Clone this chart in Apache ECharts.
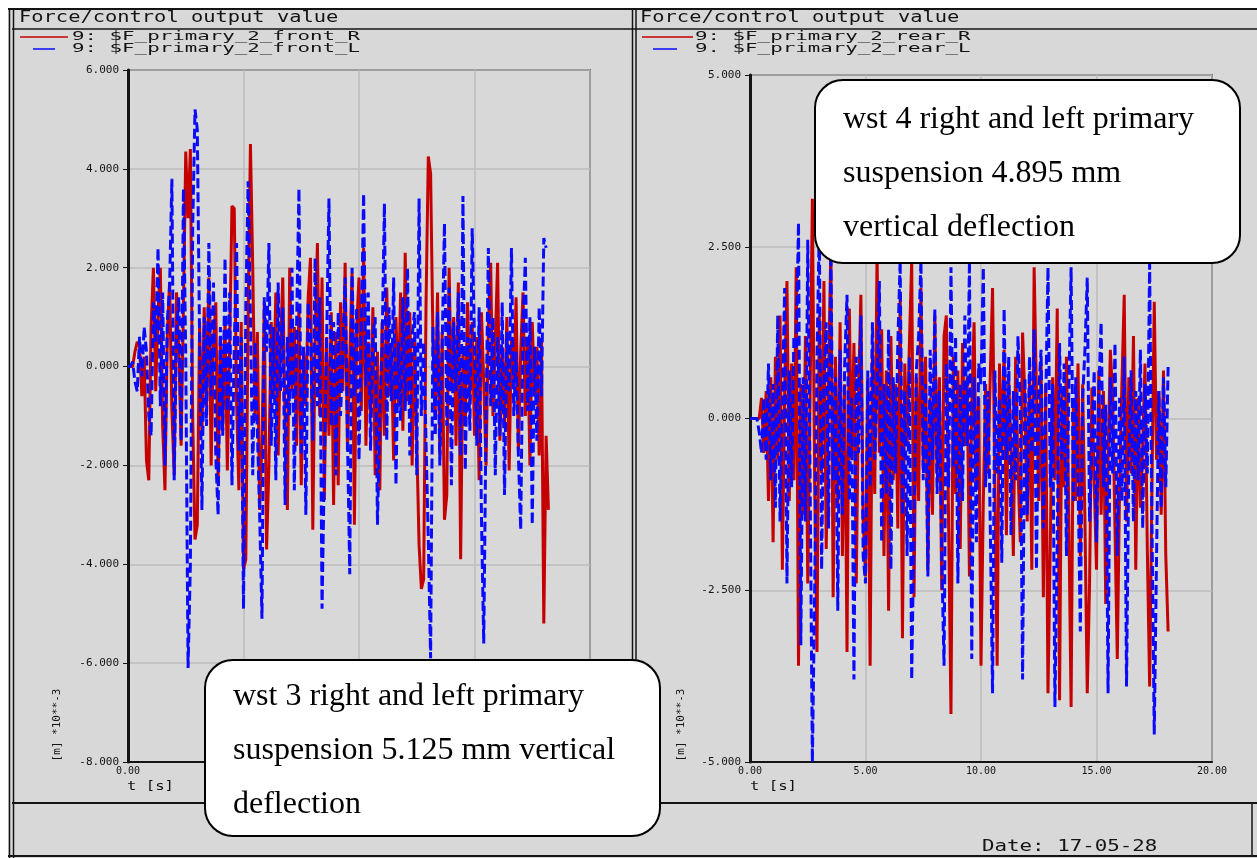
<!DOCTYPE html>
<html><head><meta charset="utf-8">
<script src="https://cdn.jsdelivr.net/npm/echarts@6/dist/echarts.min.js"></script>
<style>html,body{margin:0;padding:0;background:#fff}#c{width:1257px;height:858px}</style>
</head><body><div id="c"></div>
<script>
// sample spacing of the recorded signals [s]
const DT = 0.1;

// Left panel (wst 3): front primary suspension, [m]*10**-3
const frontR = [
 0, 0, 0, 0.3, 0.5, 0.4, -0.6, 0.2, -1.9, -2.3,
 0.8, 2.0, -0.5, 1.1, 2.0, -1.2, -2.5, 0.6, 1.7, -0.9,
 -2.2, 1.5, 0.3, -1.6, 1.2, 4.35, 3.0, 4.4, -1.0, -3.5,
 -3.2, 0.9, -1.4, 1.2, -0.8, 1.8, -2.0, 0.5, 1.3, -2.4,
 0.6, -1.3, 1.0, -2.1, 0.4, 3.25, 3.2, -0.7, -2.5, 0.9,
 -4.1, -3.9, 1.0, 4.5, 2.0, -1.1, 0.7, -2.9, -1.5, 1.3,
 -3.7, -2.0, 0.9, -0.6, 1.5, -1.8, 0.4, 1.8, -1.2, -2.9,
 2.0, -0.5, 0.8, -1.6, 1.2, -2.4, 0.3, -0.8, 1.4, 2.2,
 -3.3, 0.5, 2.5, -1.0, 1.8, -2.7, 0.6, -1.4, 1.1, -2.8,
 0.7, -2.4, 1.3, -0.5, 2.1, -1.7, 0.2, 1.9, -3.2, 0.8,
 1.8, -0.9, 2.4, -1.6, 0.5, -1.0, 1.2, -2.2, 0.3, -2.5,
 0.9, -1.4, 1.6, -0.6, 0.4, -1.9, 1.0, -0.8, 1.5, -1.3,
 2.3, -0.7, 1.1, -2.0, 0.6, -1.5, -3.6, -4.5, -4.3, 1.2,
 4.25, 3.9, 0.6, -0.9, 1.5, -1.8, 0.7, -3.1, -2.6, 2.0,
 -0.5, 1.0, -1.6, 1.7, -3.9, 0.4, -1.2, 1.3, -0.7, 0.9,
 -1.4, 0.6, -2.3, 1.1, -0.3, -2.0, 0.8, 2.1, -1.0, 0.5,
 2.1, -1.5, 0.4, -1.2, 1.0, -2.1, 0.6, -0.4, 1.4, -1.7,
 0.3, 1.5, -1.0, 0.6, -2.0, 0.9, -0.6, 0.4, -1.8, 0.5,
 -5.2, -1.4, -2.9
];
const frontL = [
 0, 0, 0.1, -0.3, -0.5, 0.6, -0.2, 0.8, 0.3, -1.0,
 -1.4, 1.3, 0.5, 2.4, -0.8, 1.5, -2.0, 0.9, 1.6, 3.8,
 -2.3, 0.7, 1.4, -1.5, 3.6, 0.2, -6.1, -4.0, 2.8, 5.2,
 4.8, 0.5, -2.9, 1.0, -1.2, 2.5, -0.6, 1.7, -1.8, -3.0,
 0.8, -1.4, 2.2, -0.9, 1.5, -2.4, 0.4, 2.5, -1.7, 0.6,
 -4.9, 1.2, 3.75, 1.0, -2.2, 0.5, -1.3, -3.0, -5.1, 1.4,
 0.3, 2.5, -1.6, 0.8, -2.3, 1.7, -0.5, 1.2, -2.8, 0.6,
 -1.0, 2.0, -2.5, 0.9, 3.6, -1.8, 0.4, -3.0, 1.3, 0.7,
 -1.5, 2.2, -0.8, 1.4, -4.9, -2.0, 0.6, 3.4, -1.2, 0.9,
 -2.2, 1.1, -1.0, 0.3, 1.8, -1.4, -4.2, 2.0, -0.6, 1.2,
 -1.9, 0.8, 3.5, -0.4, 1.5, -1.7, 0.6, 1.0, -3.2, -0.9,
 0.4, 3.3, -1.5, 1.2, -0.7, 1.8, -2.4, 0.5, -1.1, 1.4,
 -0.9, 2.0, -1.8, 0.6, 1.1, -2.2, 3.4, -1.0, 0.5, -1.5,
 -3.5, -5.9, 0.8, -1.4, 1.1, -2.0, 0.4, 2.9, -1.2, 1.6,
 -2.4, 0.9, -0.5, 1.5, -1.8, 3.45, -2.1, 0.6, -1.3, 2.8,
 0.5, -1.6, 1.2, -3.0, -5.6, -1.0, 2.4, -0.8, 1.0, -2.2,
 0.6, -1.4, 1.3, -2.6, 0.7, -0.5, 2.4, -1.0, 0.3, -1.8,
 -3.3, 0.8, 2.2, -0.9, 1.0, -3.2, 0.4, -1.5, 1.2, -0.6,
 2.6, 2.4
];

// Right panel (wst 4): rear primary suspension, [m]*10**-3
const rearR = [
 0, 0, 0, 0, 0, 0.3, -0.5, 0.4, -1.2, 0.6,
 -1.8, 0.9, -0.6, 1.5, -2.2, 0.4, 2.0, -1.2, 0.8, -0.9,
 2.2, -3.6, 0.5, -1.4, 1.2, -2.4, 0.3, 3.2, -1.0, -3.4,
 1.5, -0.8, 2.0, -1.9, 0.6, 2.5, -2.6, 0.9, -1.3, 1.4,
 -2.0, 0.5, -3.4, 1.6, -0.6, 1.1, -2.4, 0.4, 1.8, -1.5,
 -2.3, 0.6, -3.6, 1.0, -1.1, 2.4, -0.5, 1.3, -2.0, 0.7,
 -2.8, 1.2, -0.9, 0.5, -1.6, 1.8, -3.2, 0.8, -0.4, 1.1,
 2.3, -2.6, 0.6, -1.2, 1.9, -0.7, 0.9, -2.2, 0.3, -1.4,
 1.5, -0.8, 0.6, -2.5, 1.2, 1.5, -1.6, -4.3, 0.9, -1.1,
 0.7, -1.9, 1.1, -0.4, 0.6, -2.3, 0.2, 1.4, -1.0, 0.3,
 -3.6, -1.2, 0.5, -0.8, 0.6, 1.9, -1.0, -3.6, 0.8, -0.5,
 1.0, -1.7, 0.55, -0.4, -2.0, 0.9, -0.7, -1.8, 1.25, 0.3,
 -1.5, 0.6, -2.2, 2.2, 0.4, -1.2, 0.8, -2.6, 0.5, -4.0,
 -1.8, 0.6, -0.9, 1.6, -4.1, 0.4, -1.0, 0.9, -1.4, -4.2,
 0.3, -1.2, 0.8, -2.0, 0.5, -1.5, -4.0, -2.4, 0.45, -0.9,
 -2.2, 0.7, -1.4, 0.4, -2.7, -0.6, 1.0, 0.3, -1.6, -3.5,
 -1.0, 0.5, 1.8, -1.5, 0.6, -0.8, 1.2, -2.2, 0.3, -1.3,
 -0.4, 0.8, -1.9, -3.9, -1.0, 1.7, -0.6, 0.4, -1.4, 0.7,
 -2.0, -3.1
];
const rearL = [
 0, 0, 0, 0, -0.2, -0.5, 0.3, -0.6, 0.8, -0.9,
 0.5, -1.3, 1.5, -1.5, 0.2, 1.9, -2.4, 0.7, -1.0, 1.2,
 1.0, 2.85, -3.3, 0.6, -1.5, 2.6, -0.8, -5.0, -2.5, 0.9,
 2.8, -2.2, 0.5, 1.4, -1.6, 2.4, -0.9, 0.6, -2.8, 1.0,
 -1.4, 0.8, 1.8, -1.2, 0.3, -3.8, 0.9, -0.5, 1.5, -2.0,
 -2.4, 0.7, -1.0, 1.4, -0.6, 0.4, 2.0, -1.8, 0.5, -1.1,
 1.3, -2.2, 0.6, -0.8, 1.1, 2.3, -1.4, 0.4, -2.0, 0.9,
 -3.8, -1.5, 0.7, 1.2, 2.3, -0.9, 0.5, -2.3, 1.0, -0.6,
 1.6, -1.1, 0.4, -2.0, -3.6, 0.8, -1.0, 2.2, -0.7, 1.2,
 -2.4, 0.5, -1.2, 1.5, -0.4, 2.3, -3.5, 0.6, -1.8, 0.8,
 0.5, 2.2, -1.0, 0.4, -1.5, -4.0, 0.7, -0.8, 0.3, -2.1,
 1.6, -0.6, 0.9, -1.7, 0.4, -0.9, 1.2, 0.2, -3.8, 0.6,
 -1.4, 0.9, -0.5, 1.3, -2.2, 0.4, 1.0, -1.6, 0.2, 2.2,
 -1.0, 0.5, -4.2, -1.8, 1.1, -0.6, 0.8, -2.0, 0.4, 2.2,
 -1.2, 0.6, -0.9, -3.1, 0.3, 1.0, 2.05, -1.5, -0.4, 0.7,
 -1.8, 0.4, 1.4, -1.0, 0.2, -4.0, 0.6, -0.8, 1.1, -2.0,
 0.3, -1.2, 0.9, -3.9, -0.6, 0.7, -1.5, 0.4, -0.9, 1.0,
 -1.6, 0.5, -0.8, 2.25, -1.5, -4.6, -2.0, 0.4, -1.3, 0.6,
 -1.0, 0.75
];

const seriesNames = ['9: $F_primary_2_front_R', '9: $F_primary_2_front_L',
                     '9: $F_primary_2_rear_R', '9. $F_primary_2_rear_L'];
const panelTitle = 'Force/control output value';
const unitLabel = '[m] *10**-3';
const timeLabel = 't [s]';
const dateLabel = 'Date: 17-05-28';
const noteLeft = ['wst 3 right and left primary', 'suspension 5.125 mm vertical', 'deflection'];
const noteRight = ['wst 4 right and left primary', 'suspension 4.895 mm', 'vertical deflection'];

const RED = '#c40000', BLUE = '#0a0aff', BG = '#d8d8d8', INK = '#141414';
const MONO = '"DejaVu Sans Mono", monospace';

function pts(arr) { return arr.map((v, i) => [Math.round(i * DT * 100) / 100, v]); }

function xAx(gi) {
  return {
    gridIndex: gi, type: 'value', min: 0, max: 20, interval: 5,
    axisLine: { show: true, onZero: false, lineStyle: { color: INK, width: 2 } },
    axisTick: { show: false },
    axisLabel: { formatter: v => v.toFixed(2), fontFamily: MONO, fontSize: 10, color: INK, margin: 4 },
    splitLine: { show: true, lineStyle: { color: '#bdbdbd', width: 1.5 } }
  };
}
function yAx(gi, mn, mx, iv) {
  return {
    gridIndex: gi, type: 'value', min: mn, max: mx, interval: iv,
    axisLine: { show: true, onZero: false, lineStyle: { color: INK, width: 3 } },
    axisTick: { show: true, length: 5, lineStyle: { color: INK, width: 1 } },
    axisLabel: { formatter: v => v.toFixed(3), fontFamily: MONO, fontSize: 11, color: INK, margin: 9 },
    splitLine: { show: true, lineStyle: { color: '#bdbdbd', width: 1.5 } }
  };
}
function ser(name, gi, arr, color, dashed, z) {
  return {
    name, type: 'line', xAxisIndex: gi, yAxisIndex: gi, data: pts(arr),
    showSymbol: false, symbol: 'none', z,
    lineStyle: { color, width: 3, type: dashed ? [10, 4] : 'solid', join: 'bevel' },
    emphasis: { disabled: true }
  };
}
function line(x1, y1, x2, y2, w, c) {
  return { type: 'line', z: 50, shape: { x1, y1, x2, y2 }, style: { stroke: c || INK, lineWidth: w || 1.5 } };
}
function txt(x, y, text, size, sx, extra) {
  return Object.assign({ type: 'text', x, y, scaleX: sx || 1, z: 50,
    style: { text, font: size + 'px ' + MONO, fill: INK, textAlign: 'left', textVerticalAlign: 'middle' } }, extra || {});
}
function note(x, y, w, h, lines, tx, ty0) {
  const els = [{ type: 'rect', z: 100, shape: { x, y, width: w, height: h, r: 28 },
    style: { fill: '#ffffff', stroke: '#000', lineWidth: 2 } }];
  lines.forEach((s, i) => els.push({ type: 'text', z: 101, x: tx, y: ty0 + i * 54,
    style: { text: s, font: '32px "Liberation Serif", "Times New Roman", serif', fill: '#000',
      textAlign: 'left', textVerticalAlign: 'middle' } }));
  return els;
}
function vtext(x, y) {
  return { type: 'text', x, y, rotation: Math.PI / 2, z: 50,
    style: { text: unitLabel, font: '11px ' + MONO, fill: INK, textAlign: 'center', textVerticalAlign: 'middle' } };
}

const graphics = [
  { type: 'rect', z: -10, shape: { x: 0, y: 0, width: 1257, height: 8 }, style: { fill: '#ffffff' } },
  { type: 'rect', z: -10, shape: { x: 0, y: 0, width: 8, height: 858 }, style: { fill: '#ffffff' } },
  line(8, 9, 1257, 9, 2), line(12, 29, 1257, 29, 1.5),
  line(9.5, 8, 9.5, 858, 1.5), line(13.5, 8, 13.5, 858, 1.5),
  line(632.5, 8, 632.5, 803, 1.5), line(636, 8, 636, 803, 1.5),
  line(12, 803, 1257, 803, 2), line(8, 856, 1257, 856, 2),
  line(1252, 803, 1252, 856, 1.5),
  txt(19, 18, panelTitle, 15, 1.36), txt(640, 18, panelTitle, 15, 1.36),
  line(20, 37, 68, 37, 1.5, RED), line(33, 49, 55, 49, 1.5, BLUE),
  txt(72, 37, seriesNames[0], 13, 1.6), txt(72, 49, seriesNames[1], 13, 1.6),
  line(642, 37, 693, 37, 1.5, RED), line(653, 49, 677, 49, 1.5, BLUE),
  txt(695, 37, seriesNames[2], 13, 1.6), txt(695, 49, seriesNames[3], 13, 1.6),
  txt(127, 787, timeLabel, 13, 1.2), txt(750, 787, timeLabel, 13, 1.2),
  vtext(57, 725), vtext(681, 725),
  txt(982, 847, dateLabel, 16, 1.3),
  ...note(205, 660, 455, 176, noteLeft, 233, 697),
  ...note(815, 80, 425, 183, noteRight, 843, 120)
];

const chart = echarts.init(document.getElementById('c'), null, { renderer: 'canvas' });
chart.setOption({
  animation: false,
  backgroundColor: BG,
  grid: [
    { left: 128, top: 70, width: 462, height: 692, show: true, borderColor: INK, borderWidth: 1.5, backgroundColor: 'transparent' },
    { left: 750, top: 75, width: 462, height: 687, show: true, borderColor: INK, borderWidth: 1.5, backgroundColor: 'transparent' }
  ],
  xAxis: [xAx(0), xAx(1)],
  yAxis: [yAx(0, -8, 6, 2), yAx(1, -5, 5, 2.5)],
  series: [
    ser(seriesNames[0], 0, frontR, RED, false, 2),
    ser(seriesNames[1], 0, frontL, BLUE, true, 3),
    ser(seriesNames[2], 1, rearR, RED, false, 2),
    ser(seriesNames[3], 1, rearL, BLUE, true, 3)
  ],
  graphic: { elements: graphics }
});
</script></body></html>
